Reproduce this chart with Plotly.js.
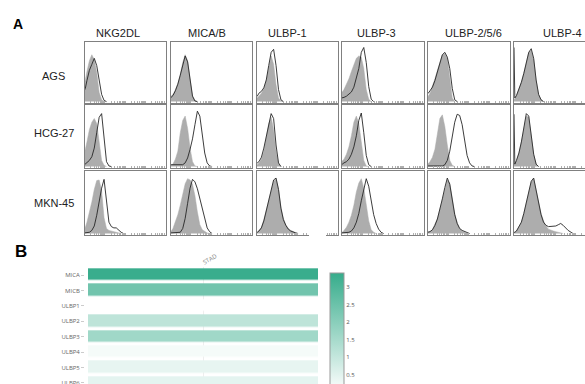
<!DOCTYPE html>
<html>
<head>
<meta charset="utf-8">
<script src="https://cdn.plot.ly/plotly-3.0.1.min.js"></script>
<style>html,body{margin:0;padding:0;background:#fff}#chart{width:585px;height:384px}</style>
</head>
<body>
<div id="chart"></div>
<script>
// ---------- Panel A: flow cytometry histograms ----------
const markers = ['NKG2DL', 'MICA/B', 'ULBP-1', 'ULBP-3', 'ULBP-2/5/6', 'ULBP-4'];
const cellLines = ['AGS', 'HCG-27', 'MKN-45'];
// shared fluorescence channel grid (% of panel width)
const XS = [0,1,3,6,9,12,15,18,21,24,27,30,33,36,39,42,45,48,51,54,57,60,66,72,80,90,100];

// AGS (isotype = gray, stained = black), % of max height
const ags_nkg_gray  = [32,36,50,68,78,70,48,15,3,0];
const ags_nkg_black = [19,22,35,52,62,72,60,38,12,2,0];
const ags_mic_gray  = [8,9,12,20,30,45,65,78,68,38,10,2,0];
const ags_mic_black = [6,7,10,18,29,44,63,76,66,36,9,1,0];
const ags_u1_gray   = [5,6,9,14,22,35,58,76,62,28,6,1,0];
const ags_u1_black  = [8,9,14,17,23,36,60,82,87,60,20,3,0];
const ags_u3_gray   = [15,16,20,28,38,50,62,72,76,74,55,20,4,0];
const ags_u3_black  = [6,6,7,9,12,16,24,38,55,82,90,65,25,4,0];
const ags_u256_gray = [8,9,14,25,38,52,66,78,80,72,40,6,0];
const ags_u256_black= [13,14,18,24,35,50,65,78,82,74,55,22,3,0];
const ags_u4_gray   = [4,5,10,20,33,48,65,82,85,70,35,12,3,0];
const ags_u4_black  = [90,6,10,20,32,47,64,82,88,72,36,12,3,0];

// HCG-27
const hcg_nkg_gray  = [25,28,40,60,72,78,70,40,10,2,0];
const hcg_nkg_black = [3,4,6,10,16,30,55,80,86,45,8,1,0];
const hcg_mic_gray  = [2,2,4,12,25,55,75,82,62,30,8,1,0];
const hcg_mic_black = [3,3,2,2,2,2,3,6,14,28,45,68,90,82,50,22,6,1,0];
const hcg_u1_gray   = [3,3,6,12,25,45,70,80,60,25,5,0];
const hcg_u1_black  = [6,6,8,15,30,50,72,86,78,35,6,0];
const hcg_u3_gray   = [8,9,12,20,32,50,72,82,70,40,10,1,0];
const hcg_u3_black  = [4,4,6,8,12,20,32,50,75,87,55,18,3,0];
const hcg_u256_gray = [5,5,8,15,28,55,78,84,65,35,10,2,0];
const hcg_u256_black= [1,1,1,1,1,1,1,1,3,10,25,48,72,85,83,68,40,18,6,1,0];
const hcg_u4_gray   = [5,5,10,22,40,62,82,80,50,20,4,0];
const hcg_u4_black  = [85,4,10,22,40,66,86,82,52,20,4,0];

// MKN-45
const mkn_nkg_gray  = [8,10,18,32,50,70,84,85,68,25,8,5,4,3,2,1,0];
const mkn_nkg_black = [1,1,1,2,5,12,29,50,72,86,55,18,11,9,9,5,2,0];
const mkn_mic_gray  = [4,4,8,18,30,45,63,79,87,85,78,60,34,14,6,3,1,0];
const mkn_mic_black = [1,1,1,1,1,2,8,24,48,72,86,82,71,55,39,22,9,3,0];
const mkn_u1_gray   = [2,2,5,10,22,38,55,72,83,87,70,42,24,14,8,5,3,1,0];
const mkn_u1_black  = [2,2,4,9,20,36,54,72,85,88,70,40,22,13,7,4,2,1,0];
const mkn_u3_gray   = [2,2,5,10,18,29,45,66,80,87,72,42,20,6,2,0];
const mkn_u3_black  = [1,1,1,1,2,4,9,18,32,52,72,87,75,52,30,16,7,2,0];
const mkn_u256_gray = [2,2,3,6,14,24,38,55,72,85,80,58,32,17,8,4,2,0];
const mkn_u256_black= [2,2,3,6,13,23,37,55,73,88,78,55,30,16,8,5,3,1,0];
const mkn_u4_gray   = [2,2,4,10,18,32,50,68,82,87,70,48,32,20,12,7,5,4,3,2,1,0];
const mkn_u4_black  = [2,2,4,10,18,32,50,68,83,88,70,48,30,18,13,11,11,12,12,14,16,13,5,0];

const grayRows = [
  [ags_nkg_gray, ags_mic_gray, ags_u1_gray, ags_u3_gray, ags_u256_gray, ags_u4_gray],
  [hcg_nkg_gray, hcg_mic_gray, hcg_u1_gray, hcg_u3_gray, hcg_u256_gray, hcg_u4_gray],
  [mkn_nkg_gray, mkn_mic_gray, mkn_u1_gray, mkn_u3_gray, mkn_u256_gray, mkn_u4_gray]
];
const blackRows = [
  [ags_nkg_black, ags_mic_black, ags_u1_black, ags_u3_black, ags_u256_black, ags_u4_black],
  [hcg_nkg_black, hcg_mic_black, hcg_u1_black, hcg_u3_black, hcg_u256_black, hcg_u4_black],
  [mkn_nkg_black, mkn_mic_black, mkn_u1_black, mkn_u3_black, mkn_u256_black, mkn_u4_black]
];

// ---------- Panel B: heatmap ----------
const genes = ['MICA','MICB','ULBP1','ULBP2','ULBP3','ULBP4','ULBP5','ULBP6'];
const cohort = ['STAD'];
const expr = [3.35, 2.4, 0, 1.1, 1.6, 0.17, 0.4, 0.45];

// ---------- layout helpers ----------
const W = 585, H = 384;
const px = v => v / W;
const py = v => 1 - v / H;
const colL = [84.5, 170.5, 256.5, 341.5, 427.5, 514];
const colR = [166, 252, 338, 424, 510, 596];
const rowT = [41.5, 105, 170.5];
const rowB = [102.5, 167.5, 234.5];

const logTicks = [];
for (let d = 0; d < 4; d++) for (let k = 1; k <= 9; k++) logTicks.push(d * 25 + 25 * Math.log10(k));
logTicks.push(100);

const data = [];
const layout = {
  width: W, height: H,
  margin: {l: 0, r: 0, t: 0, b: 0, pad: 0, autoexpand: false},
  paper_bgcolor: '#fff', plot_bgcolor: 'rgba(0,0,0,0)',
  showlegend: false,
  font: {family: 'Liberation Sans, Arial, sans-serif', color: '#222'},
  annotations: [], shapes: []
};

let n = 0;
for (let r = 0; r < 3; r++) {
  for (let c = 0; c < 6; c++) {
    n++;
    const xa = 'x' + (n === 1 ? '' : n), ya = 'y' + (n === 1 ? '' : n);
    const g = grayRows[r][c], b = blackRows[r][c];
    data.push({type: 'scatter', mode: 'lines', x: XS.slice(0, g.length), y: g,
      xaxis: xa, yaxis: ya, fill: 'tozeroy', fillcolor: '#adadad',
      line: {color: '#adadad', width: 0.5}, hoverinfo: 'skip'});
    data.push({type: 'scatter', mode: 'lines', x: XS.slice(0, b.length), y: b,
      xaxis: xa, yaxis: ya, line: {color: '#262626', width: 0.9}, hoverinfo: 'skip'});
    const last = c === 5;
    const xr = last ? [0, 100 * (W - colL[5]) / (colR[5] - colL[5])] : [0, 100];
    layout['xaxis' + (n === 1 ? '' : n)] = {
      domain: [px(colL[c]), last ? 1 : px(colR[c])], anchor: ya, range: xr,
      showline: true, mirror: true, linecolor: '#808080', linewidth: 1,
      showgrid: false, zeroline: false, showticklabels: false,
      ticks: 'inside', ticklen: 1.5, tickwidth: 1, tickcolor: '#b0b0b0',
      tickmode: 'array', tickvals: logTicks, fixedrange: true, automargin: false
    };
    layout['yaxis' + (n === 1 ? '' : n)] = {
      domain: [py(rowB[r]), py(rowT[r])], anchor: xa, range: [-1.5, 100],
      showline: true, mirror: !last, linecolor: '#808080', linewidth: 1,
      showgrid: false, zeroline: false, showticklabels: false, ticks: '', fixedrange: true, automargin: false
    };
  }
}

// heatmap
data.push({
  type: 'heatmap', x: cohort, y: genes, z: expr.map(v => [v]),
  xaxis: 'x19', yaxis: 'y19', zmin: 0, zmax: 3.4, ygap: 3.5,
  colorscale: [[0, '#ffffff'], [1, '#36ac8b']],
  colorbar: {
    x: px(329.5), xanchor: 'left', y: py(273.3), yanchor: 'top',
    len: 119 / H, lenmode: 'fraction', thickness: 14, xpad: 0, ypad: 0,
    outlinewidth: 1, outlinecolor: '#999',
    tickvals: [0.5, 1, 1.5, 2, 2.5, 3], ticktext: ['0.5', '1', '1.5', '2', '2.5', '3'],
    ticks: '', tickfont: {size: 6, color: '#555', family: 'Open Sans, sans-serif'}
  },
  hoverinfo: 'skip'
});
layout.xaxis19 = {
  domain: [px(88), px(318)], anchor: 'y19', side: 'top', type: 'category',
  tickangle: -30, tickfont: {size: 6, color: '#888', family: 'Open Sans, sans-serif'},
  showgrid: true, gridcolor: '#eeeeee', zeroline: false, showline: false, ticks: '', fixedrange: true, automargin: false
};
layout.yaxis19 = {
  domain: [0, py(267.3)], anchor: 'free', position: px(84), overlaying: false, type: 'category',
  range: [-0.5 + (H - 267.3) / 15.4, -0.5],
  tickfont: {size: 6, color: '#666', family: 'Open Sans, sans-serif'},
  ticks: 'outside', ticklen: 3, tickcolor: '#cccccc', tickwidth: 1,
  showgrid: false, zeroline: false, showline: false, fixedrange: true, automargin: false
};
delete layout.yaxis19.overlaying;

// texts
const colCx = [118, 207, 287, 376.5, 473, 562.5];
markers.forEach((m, i) => layout.annotations.push({
  text: m, xref: 'paper', yref: 'paper', x: px(colCx[i]), y: py(33),
  xanchor: 'center', yanchor: 'middle', showarrow: false,
  font: {size: 11, color: '#222', family: 'Liberation Sans, Arial, sans-serif'}
}));
const rowCy = [76, 133, 203];
cellLines.forEach((m, i) => layout.annotations.push({
  text: m, xref: 'paper', yref: 'paper', x: px(53.5), y: py(rowCy[i]),
  xanchor: 'center', yanchor: 'middle', showarrow: false,
  font: {size: 11, color: '#222', family: 'Liberation Sans, Arial, sans-serif'}
}));
layout.annotations.push({text: '<b>A</b>', xref: 'paper', yref: 'paper', x: px(18), y: py(24),
  xanchor: 'center', yanchor: 'middle', showarrow: false,
  font: {size: 14, color: '#000', family: 'Liberation Sans, Arial, sans-serif'}});
layout.annotations.push({text: '<b>B</b>', xref: 'paper', yref: 'paper', x: px(20.5), y: py(251.5),
  xanchor: 'center', yanchor: 'middle', showarrow: false,
  font: {size: 17, color: '#000', family: 'Liberation Sans, Arial, sans-serif'}});

// scanner gap in the bottom border of ULBP-1 / MKN-45
layout.shapes.push({type: 'line', xref: 'paper', yref: 'paper',
  x0: px(309), x1: px(326), y0: py(234.5), y1: py(234.5),
  line: {color: '#ffffff', width: 3}, layer: 'above'});

Plotly.newPlot('chart', data, layout, {staticPlot: true, displayModeBar: false});
</script>
</body>
</html>
